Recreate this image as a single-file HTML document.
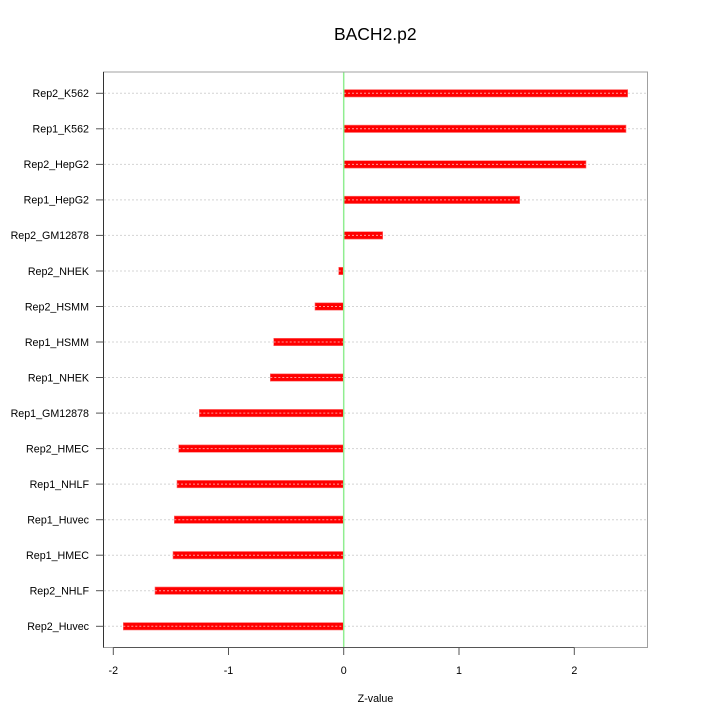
<!DOCTYPE html>
<html><head><meta charset="utf-8"><style>
html,body{margin:0;padding:0;background:#fff;}
svg{display:block;}
text{font-family:"Liberation Sans",Arial,sans-serif;fill:#000;}
</style></head><body>
<svg width="720" height="720" viewBox="0 0 720 720" xmlns="http://www.w3.org/2000/svg">
<rect width="720" height="720" fill="#fff"/>
<text x="375.3" y="40" font-size="17.5" text-anchor="middle">BACH2.p2</text>
<g stroke="#d4d4d4" stroke-width="1" stroke-dasharray="2,2">
<line x1="104" x2="647" y1="93.3" y2="93.3"/>
<line x1="104" x2="647" y1="128.8" y2="128.8"/>
<line x1="104" x2="647" y1="164.4" y2="164.4"/>
<line x1="104" x2="647" y1="199.9" y2="199.9"/>
<line x1="104" x2="647" y1="235.4" y2="235.4"/>
<line x1="104" x2="647" y1="271.0" y2="271.0"/>
<line x1="104" x2="647" y1="306.5" y2="306.5"/>
<line x1="104" x2="647" y1="342.0" y2="342.0"/>
<line x1="104" x2="647" y1="377.5" y2="377.5"/>
<line x1="104" x2="647" y1="413.1" y2="413.1"/>
<line x1="104" x2="647" y1="448.6" y2="448.6"/>
<line x1="104" x2="647" y1="484.1" y2="484.1"/>
<line x1="104" x2="647" y1="519.7" y2="519.7"/>
<line x1="104" x2="647" y1="555.2" y2="555.2"/>
<line x1="104" x2="647" y1="590.7" y2="590.7"/>
<line x1="104" x2="647" y1="626.3" y2="626.3"/>
</g>
<g fill="#ff0000" stroke="#ff7070" stroke-width="0.6">
<rect x="343.7" y="89.6" width="284.0" height="7.4"/>
<rect x="343.7" y="125.1" width="282.3" height="7.4"/>
<rect x="343.7" y="160.7" width="242.3" height="7.4"/>
<rect x="343.7" y="196.2" width="176.0" height="7.4"/>
<rect x="343.7" y="231.7" width="39.0" height="7.4"/>
<rect x="338.7" y="267.3" width="5.0" height="7.4"/>
<rect x="315.0" y="302.8" width="28.7" height="7.4"/>
<rect x="273.7" y="338.3" width="70.0" height="7.4"/>
<rect x="270.3" y="373.8" width="73.4" height="7.4"/>
<rect x="199.3" y="409.4" width="144.4" height="7.4"/>
<rect x="178.7" y="444.9" width="165.0" height="7.4"/>
<rect x="177.0" y="480.4" width="166.7" height="7.4"/>
<rect x="174.3" y="516.0" width="169.4" height="7.4"/>
<rect x="173.0" y="551.5" width="170.7" height="7.4"/>
<rect x="155.0" y="587.0" width="188.7" height="7.4"/>
<rect x="123.3" y="622.6" width="220.4" height="7.4"/>
</g>
<g stroke="#ff9a9a" stroke-width="1" stroke-dasharray="2,2">
<line x1="344" x2="627.7" y1="93.3" y2="93.3"/>
<line x1="344" x2="626" y1="128.8" y2="128.8"/>
<line x1="344" x2="586" y1="164.4" y2="164.4"/>
<line x1="344" x2="519.7" y1="199.9" y2="199.9"/>
<line x1="344" x2="382.7" y1="235.4" y2="235.4"/>
<line x1="338.7" x2="343" y1="271.0" y2="271.0"/>
<line x1="315" x2="343" y1="306.5" y2="306.5"/>
<line x1="273.7" x2="343" y1="342.0" y2="342.0"/>
<line x1="270.3" x2="343" y1="377.5" y2="377.5"/>
<line x1="199.3" x2="343" y1="413.1" y2="413.1"/>
<line x1="178.7" x2="343" y1="448.6" y2="448.6"/>
<line x1="177" x2="343" y1="484.1" y2="484.1"/>
<line x1="174.3" x2="343" y1="519.7" y2="519.7"/>
<line x1="173" x2="343" y1="555.2" y2="555.2"/>
<line x1="155" x2="343" y1="590.7" y2="590.7"/>
<line x1="123.3" x2="343" y1="626.3" y2="626.3"/>
</g>
<line x1="343.7" x2="343.7" y1="72" y2="647.5" stroke="#90ee90" stroke-width="1.5"/>
<rect x="103.5" y="72" width="544" height="575.5" fill="none" stroke="#a0a0a0" stroke-width="1"/>
<line x1="103.5" x2="103.5" y1="72" y2="647.5" stroke="#333" stroke-width="1"/>
<line x1="113.3" x2="574.3" y1="647.5" y2="647.5" stroke="#555" stroke-width="1"/>
<g stroke="#555" stroke-width="1">
<line x1="96" x2="103.5" y1="93.3" y2="93.3"/>
<line x1="96" x2="103.5" y1="128.8" y2="128.8"/>
<line x1="96" x2="103.5" y1="164.4" y2="164.4"/>
<line x1="96" x2="103.5" y1="199.9" y2="199.9"/>
<line x1="96" x2="103.5" y1="235.4" y2="235.4"/>
<line x1="96" x2="103.5" y1="271.0" y2="271.0"/>
<line x1="96" x2="103.5" y1="306.5" y2="306.5"/>
<line x1="96" x2="103.5" y1="342.0" y2="342.0"/>
<line x1="96" x2="103.5" y1="377.5" y2="377.5"/>
<line x1="96" x2="103.5" y1="413.1" y2="413.1"/>
<line x1="96" x2="103.5" y1="448.6" y2="448.6"/>
<line x1="96" x2="103.5" y1="484.1" y2="484.1"/>
<line x1="96" x2="103.5" y1="519.7" y2="519.7"/>
<line x1="96" x2="103.5" y1="555.2" y2="555.2"/>
<line x1="96" x2="103.5" y1="590.7" y2="590.7"/>
<line x1="96" x2="103.5" y1="626.3" y2="626.3"/>
<line x1="113.3" x2="113.3" y1="647.5" y2="655"/>
<line x1="228.5" x2="228.5" y1="647.5" y2="655"/>
<line x1="343.7" x2="343.7" y1="647.5" y2="655"/>
<line x1="459" x2="459" y1="647.5" y2="655"/>
<line x1="574.3" x2="574.3" y1="647.5" y2="655"/>
</g>
<g font-size="10.7" text-anchor="end">
<text x="89" y="97.1">Rep2_K562</text>
<text x="89" y="132.6">Rep1_K562</text>
<text x="89" y="168.2">Rep2_HepG2</text>
<text x="89" y="203.7">Rep1_HepG2</text>
<text x="89" y="239.2">Rep2_GM12878</text>
<text x="89" y="274.8">Rep2_NHEK</text>
<text x="89" y="310.3">Rep2_HSMM</text>
<text x="89" y="345.8">Rep1_HSMM</text>
<text x="89" y="381.3">Rep1_NHEK</text>
<text x="89" y="416.9">Rep1_GM12878</text>
<text x="89" y="452.4">Rep2_HMEC</text>
<text x="89" y="487.9">Rep1_NHLF</text>
<text x="89" y="523.5">Rep1_Huvec</text>
<text x="89" y="559.0">Rep1_HMEC</text>
<text x="89" y="594.5">Rep2_NHLF</text>
<text x="89" y="630.1">Rep2_Huvec</text>
</g>
<g font-size="10.7" text-anchor="middle">
<text x="113.3" y="674">-2</text>
<text x="228.5" y="674">-1</text>
<text x="343.7" y="674">0</text>
<text x="459" y="674">1</text>
<text x="574.3" y="674">2</text>
<text x="375.5" y="702">Z-value</text>
</g>
</svg>
</body></html>
